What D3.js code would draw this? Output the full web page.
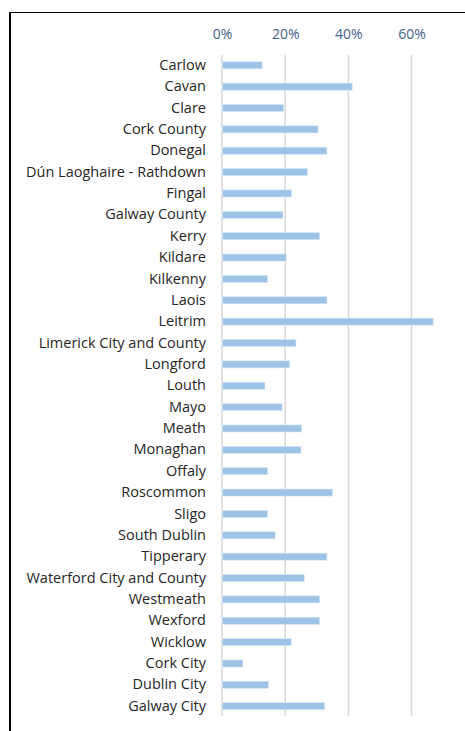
<!DOCTYPE html>
<html>
<head>
<meta charset="utf-8">
<script src="https://cdn.jsdelivr.net/npm/d3@7"></script>
<style>
  html, body { margin: 0; padding: 0; background: #fff; }
  svg { display: block; }
</style>
</head>
<body>
<svg id="chart" width="465" height="731"></svg>
<script>
// Share by local authority area
const areas = [
  "Carlow", "Cavan", "Clare", "Cork County", "Donegal", "Dún Laoghaire - Rathdown",
  "Fingal", "Galway County", "Kerry", "Kildare", "Kilkenny", "Laois", "Leitrim",
  "Limerick City and County", "Longford", "Louth", "Mayo", "Meath", "Monaghan",
  "Offaly", "Roscommon", "Sligo", "South Dublin", "Tipperary",
  "Waterford City and County", "Westmeath", "Wexford", "Wicklow", "Cork City",
  "Dublin City", "Galway City"
];
const shares = [
  0.127, 0.412, 0.195, 0.304, 0.332, 0.270,
  0.220, 0.193, 0.309, 0.203, 0.144, 0.332, 0.668,
  0.234, 0.214, 0.136, 0.190, 0.252, 0.250,
  0.144, 0.350, 0.144, 0.168, 0.332,
  0.260, 0.309, 0.309, 0.219, 0.066,
  0.147, 0.325
];
const tickValues = [0, 0.2, 0.4, 0.6];

const svg = d3.select("#chart");
const font = "'Open Sans', sans-serif";

// Frame lines
svg.append("line").attr("x1", 9).attr("x2", 465).attr("y1", 12.5).attr("y2", 12.5)
  .attr("stroke", "#000").attr("stroke-width", 1.2);
svg.append("line").attr("x1", 10).attr("x2", 10).attr("y1", 12).attr("y2", 731)
  .attr("stroke", "#000").attr("stroke-width", 2);

const x = d3.scaleLinear().domain([0, 0.6]).range([222, 411.6]);
const y = d3.scaleBand().domain(areas).range([54.6, 716.9]).paddingInner(0.67).paddingOuter(0.335);

// Gridlines
svg.append("g").selectAll("line").data(tickValues).join("line")
  .attr("x1", d => x(d)).attr("x2", d => x(d))
  .attr("y1", 55).attr("y2", 716)
  .attr("stroke", "#d9d9d9").attr("stroke-width", 1.5);

// Top axis labels
const axis = d3.axisTop(x).tickValues(tickValues).tickFormat(d3.format(".0%")).tickSize(0).tickPadding(0);
const gAxis = svg.append("g").attr("transform", "translate(0,38.5)").call(axis);
gAxis.select(".domain").remove();
gAxis.selectAll("text")
  .attr("font-family", font)
  .attr("font-size", 14)
  .attr("fill", "#44618a");

// Bars
svg.append("g").selectAll("rect").data(areas).join("rect")
  .attr("x", x(0) + 0.5)
  .attr("y", d => y(d))
  .attr("width", (d, i) => x(shares[i]) - x(0) - 0.5)
  .attr("height", y.bandwidth())
  .attr("fill", "#9dc3e6")
  .attr("stroke", "#d6e6f5").attr("stroke-width", 0.6);

// Category labels
const axisY = d3.axisLeft(y).tickSize(0).tickPadding(0);
const gY = svg.append("g").attr("transform", "translate(206,0)").call(axisY);
gY.select(".domain").remove();
gY.selectAll("text")
  .attr("font-family", font)
  .attr("font-size", 14.5)
  .attr("fill", "#262626");
</script>
</body>
</html>
